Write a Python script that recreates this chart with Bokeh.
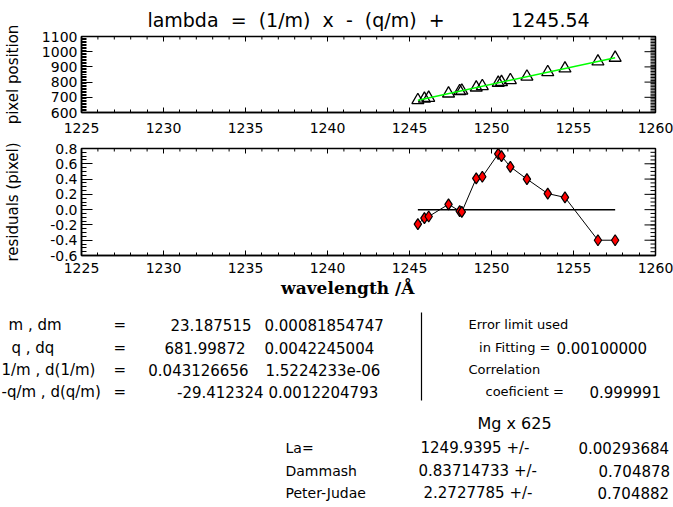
import numpy as np
from math import pi
from bokeh.plotting import figure
from bokeh.models import Range1d, FixedTicker, NumeralTickFormatter, ColumnDataSource
from bokeh.layouts import column, row
from bokeh.embed import file_html
from bokeh.resources import INLINE
from bokeh.core.properties import value

# ---------------- data ----------------
wavelength = [1245.51, 1245.91, 1246.17, 1247.38, 1248.06, 1248.19, 1249.07, 1249.44,
              1250.41, 1250.61, 1251.15, 1252.16, 1253.43, 1254.48, 1256.49, 1257.54]
pixel = [681.1, 690.5, 696.5, 724.7, 740.4, 743.4, 764.3, 772.9,
         795.6, 800.3, 812.7, 835.9, 865.2, 889.5, 935.5, 959.9]
residual = [-0.19, -0.11, -0.09, 0.07, -0.02, -0.03, 0.41, 0.43,
            0.73, 0.70, 0.56, 0.40, 0.21, 0.16, -0.40, -0.40]
fit_m = 23.187515
fit_q = 681.99872
lambda_ref = 1245.54

x_ticks = [1225, 1230, 1235, 1240, 1245, 1250, 1255, 1260]
x_minor = list(range(1225, 1261))
pix_ticks = [600, 700, 800, 900, 1000, 1100]
pix_minor = list(range(600, 1101, 10))
res_ticks = [-0.6, -0.4, -0.2, 0.0, 0.2, 0.4, 0.6, 0.8]
res_minor = [round(-0.6 + 0.05 * i, 2) for i in range(29)]

NB = "\u00a0"
title_text = (NB * 2).join(["lambda", "=", "(1/m)", "x", "-", "(q/m)", "+"]) + NB * 11 + "1245.54"

par_names = ["m , dm", "q , dq", "1/m , d(1/m)", "-q/m , d(q/m)"]
par_vals = ["23.187515", "681.99872", "0.043126656", "-29.412324"]
par_errs = ["0.00081854747", "0.0042245004", "1.5224233e-06", "0.0012204793"]
right_words = ["Error limit used", "in Fitting =", "Correlation", "coeficient ="]
right_nums = ["0.00100000", "0.999991"]
line_names = ["La=", "Dammash", "Peter-Judae"]
line_vals = ["1249.9395 +/-", "0.83714733 +/-", "2.2727785 +/-"]
line_errs = ["0.00293684", "0.704878", "0.704882"]
block_title = "Mg x 625"

FONT = "DejaVu Sans"
W = 673
XL, XR = 76, 655           # frame left/right in page px


def style(p, yticks, yminor, ylabel, ylabel_standoff, x_standoff):
    p.outline_line_color = "black"
    p.outline_line_width = 1.5
    p.xgrid.visible = False
    p.ygrid.visible = False
    p.background_fill_color = "white"
    p.border_fill_color = "white"
    ax = p.xaxis[0]
    ax.ticker = FixedTicker(ticks=x_ticks, minor_ticks=x_minor)
    ax.major_label_standoff = x_standoff
    ax.major_tick_in, ax.major_tick_out = 5, 0
    ax.minor_tick_in, ax.minor_tick_out = 3, 0
    ay = p.yaxis[0]
    ay.ticker = FixedTicker(ticks=yticks, minor_ticks=yminor)
    ay.major_label_standoff = 4
    ay.major_tick_in, ay.major_tick_out = 11, 0
    ay.minor_tick_in, ay.minor_tick_out = 5, 0
    ay.axis_label = ylabel
    ay.axis_label_standoff = ylabel_standoff
    for a in (ax, ay):
        a.major_label_text_font = FONT
        a.major_label_text_font_size = "14px"
        a.major_label_text_color = "black"
        a.axis_line_color = "black"
        a.axis_line_width = 1.5
        a.major_tick_line_color = "black"
        a.minor_tick_line_color = "black"
        a.axis_label_text_font = FONT
        a.axis_label_text_font_size = "15px"
        a.axis_label_text_font_style = "normal"
        a.axis_label_text_color = "black"
    # mirrored inward ticks on the top and right edges
    y1 = p.y_range.end
    p.ray(x=x_ticks, y=[y1] * len(x_ticks), length=5, length_units="screen",
          angle=-pi / 2, line_color="black", line_width=1)
    p.ray(x=x_minor, y=[y1] * len(x_minor), length=3, length_units="screen",
          angle=-pi / 2, line_color="black", line_width=1)
    p.ray(x=[1260] * len(yticks), y=yticks, length=11, length_units="screen",
          angle=pi, line_color="black", line_width=1)
    p.ray(x=[1260] * len(yminor), y=yminor, length=5, length_units="screen",
          angle=pi, line_color="black", line_width=1)
    return ax, ay


# ---------------- top panel ----------------
p1 = figure(width=W, height=141, x_range=Range1d(1225, 1260), y_range=Range1d(600, 1100),
            output_backend="svg", toolbar_location=None, title=title_text,
            min_border_left=XL, min_border_right=W - XR,
            min_border_top=32, min_border_bottom=29)
p1.title.align = "center"
p1.title.text_font = FONT
p1.title.text_font_size = "19px"
p1.title.text_font_style = "normal"
p1.title.text_color = "black"
p1.title.standoff = 12
style(p1, pix_ticks, pix_minor, "pixel position", 17, 10)
p1.scatter(wavelength, pixel, marker="triangle", size=12, fill_color=None,
           line_color="black", line_width=1.3)
fit_x = [wavelength[0], wavelength[-1]]
fit_y = [fit_m * (w - lambda_ref) + fit_q for w in fit_x]
p1.line(fit_x, fit_y, line_color="#00ff00", line_width=1.5)

# ---------------- residual panel ----------------
p2 = figure(width=W, height=159, x_range=Range1d(1225, 1260), y_range=Range1d(-0.6, 0.8),
            output_backend="svg", toolbar_location=None,
            min_border_left=XL, min_border_right=W - XR,
            min_border_top=7, min_border_bottom=45)
ax2, ay2 = style(p2, res_ticks, res_minor, "residuals (pixel)", 25, 7)
ay2.formatter = NumeralTickFormatter(format="0.0")
ax2.axis_label = "wavelength /\u00c5" + NB * 7
ax2.axis_label_text_font = "DejaVu Serif"
ax2.axis_label_text_font_style = "bold"
ax2.axis_label_text_font_size = "17px"
ax2.axis_label_standoff = 2
p2.line([wavelength[0], wavelength[-1]], [0, 0], line_color="black", line_width=1.5)
p2.line(wavelength, residual, line_color="black", line_width=1)
p2.scatter(wavelength, residual, marker="diamond", size=11, fill_color="red",
           line_color="black", line_width=1.2)

# ---------------- text panel ----------------
p3 = figure(width=W, height=207, x_range=Range1d(0, 673), y_range=Range1d(507, 300),
            output_backend="svg", toolbar_location=None, x_axis_type=None, y_axis_type=None,
            min_border_left=0, min_border_right=0, min_border_top=0, min_border_bottom=0)
p3.outline_line_color = None
p3.xgrid.visible = False
p3.ygrid.visible = False

cols = {"x": [], "y": [], "text": [], "size": [], "align": []}


def put(x, y, t, size="15px", align="left"):
    cols["x"].append(x)
    cols["y"].append(y)
    cols["text"].append(t)
    cols["size"].append(size)
    cols["align"].append(align)


rows = [324, 347, 369, 391]
name_x = [8, 11, 1, 1]
val_end = [251, 245, 248, 263]
err_x = [264, 264, 265, 268]
for i in range(4):
    put(name_x[i], rows[i], par_names[i])
    put(113, rows[i], "=")
    put(val_end[i], rows[i], par_vals[i], align="right")
    put(err_x[i], rows[i], par_errs[i])

put(468, 324, right_words[0], size="13px")
put(550, 347, right_words[1], size="13px", align="right")
put(468, 369, right_words[2], size="13px")
put(485, 391, right_words[3], size="13px")
put(556, 347, right_nums[0])
put(589, 391, right_nums[1])

put(477, 423, block_title, size="16px")
lrows = [447, 470, 492]
lval_x = [420, 418, 423]
lerr_x = [578, 598, 597]
for i in range(3):
    put(285, lrows[i], line_names[i], size="14px")
    put(lval_x[i], lrows[i], line_vals[i])
    put(lerr_x[i], lrows[i], line_errs[i])

src = ColumnDataSource(cols)
p3.text(x="x", y="y", text="text", source=src, text_font=value(FONT),
        text_font_size="size", text_align="align", text_baseline="middle",
        text_color="black")
p3.segment(x0=[421], y0=[312], x1=[421], y1=[400], line_color="black", line_width=1.2)

layout = column(p1, p2, row(p3), spacing=0)
open("out.html", "w").write(file_html(layout, INLINE))
